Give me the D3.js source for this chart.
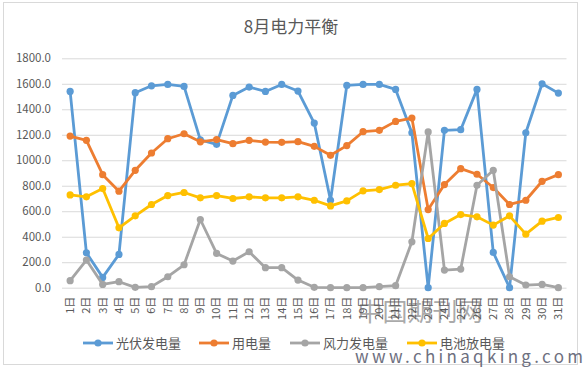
<!DOCTYPE html>
<html>
<head>
<meta charset="utf-8">
<script src="https://cdn.jsdelivr.net/npm/d3@7"></script>
<style>
  body { margin: 0; background: #fff; }
  text { font-family: "Noto Sans CJK SC", "Noto Sans", sans-serif; }
</style>
</head>
<body>
<div id="chart"></div>
<script>
// days of August
var days = d3.range(1, 32).map(function(d) { return d + "日"; });

var seriesNames = ["光伏发电量", "用电量", "风力发电量", "电池放电量"];
var seriesColors = ["#5b9bd5", "#ed7d31", "#a5a5a5", "#ffc000"];

var solar = [1540, 274, 81, 261, 1530, 1584, 1595, 1579, 1160, 1125,
  1509, 1574, 1540, 1595, 1543, 1292, 686, 1587, 1595, 1595,
  1556, 1216, 0, 1235, 1240, 1556, 277, 0, 1216, 1600, 1527];
var usage = [1190, 1156, 887, 757, 921, 1057, 1169, 1208, 1145, 1162,
  1130, 1156, 1143, 1141, 1146, 1109, 1039, 1115, 1224, 1235,
  1305, 1331, 613, 809, 934, 890, 786, 653, 686, 835, 887];
var wind = [55, 217, 26, 47, 3, 8, 86, 180, 535, 269,
  209, 282, 157, 157, 60, 3, 0, 0, 0, 8,
  16, 360, 1222, 138, 146, 804, 921, 86, 21, 26, 0];
var battery = [728, 713, 778, 470, 564, 653, 723, 747, 705, 723,
  700, 713, 705, 705, 713, 686, 642, 681, 760, 770,
  804, 817, 386, 504, 574, 556, 491, 564, 420, 522, 551];

var yTicks = [0, 200, 400, 600, 800, 1000, 1200, 1400, 1600, 1800];

var W = 586, H = 369;
var margin = { top: 58.3, right: 19.5, bottom: 81.3, left: 62 };
var width = W - margin.left - margin.right;
var height = H - margin.top - margin.bottom;

var svg = d3.select("#chart").append("svg")
  .attr("width", W)
  .attr("height", H);

//outer frame
svg.append("rect")
  .attr("x", 3.5).attr("y", 2.5)
  .attr("width", 574).attr("height", 362)
  .attr("fill", "#fff")
  .attr("stroke", "#d9d9d9");

svg.append("text")
  .attr("x", 291).attr("y", 33)
  .attr("text-anchor", "middle")
  .attr("font-size", 17)
  .attr("fill", "#595959")
  .text("8月电力平衡");

var g = svg.append("g")
  .attr("transform", "translate(" + margin.left + "," + margin.top + ")");

var x = d3.scaleBand().domain(days).range([0, width]);
var y = d3.scaleLinear().domain([0, 1800]).range([height, 0]);

// gridlines + y labels
var yAxis = g.append("g")
  .call(d3.axisLeft(y).tickValues(yTicks).tickFormat(d3.format(".1f"))
    .tickSize(-width).tickPadding(11));
yAxis.select(".domain").remove();
yAxis.selectAll("line").attr("stroke", "#d9d9d9");
yAxis.selectAll("text").attr("fill", "#595959").attr("font-size", 11.5)
  .attr("font-family", "'Noto Sans CJK SC', sans-serif");

// x labels, rotated
var xAxis = g.append("g")
  .attr("transform", "translate(0," + height + ")")
  .call(d3.axisBottom(x).tickSize(0).tickPadding(0));
xAxis.select(".domain").remove();
xAxis.selectAll("text")
  .attr("transform", "rotate(-90)")
  .attr("text-anchor", "end")
  .attr("x", -9).attr("y", 0).attr("dy", "0.35em")
  .attr("fill", "#595959").attr("font-size", 11)
  .attr("font-family", "'Noto Sans CJK SC', sans-serif");

var allSeries = [solar, usage, wind, battery];

var valueline = d3.line()
  .x(function(d, i) { return x(days[i]) + x.bandwidth() / 2; })
  .y(function(d) { return y(d); });

allSeries.forEach(function(s, k) {
  g.append("path")
    .datum(s)
    .attr("fill", "none")
    .attr("stroke", seriesColors[k])
    .attr("stroke-width", 2.8)
    .attr("stroke-linejoin", "round")
    .attr("d", valueline);
  g.selectAll(".pt" + k)
    .data(s)
    .enter().append("circle")
    .attr("cx", function(d, i) { return x(days[i]) + x.bandwidth() / 2; })
    .attr("cy", function(d) { return y(d); })
    .attr("r", 3.6)
    .attr("fill", seriesColors[k]);
});

// legend
var legendX = [83, 199, 290, 407];
var legend = svg.append("g");
seriesNames.forEach(function(name, k) {
  var lx = legendX[k], ly = 343;
  legend.append("line")
    .attr("x1", lx).attr("x2", lx + 30)
    .attr("y1", ly).attr("y2", ly)
    .attr("stroke", seriesColors[k]).attr("stroke-width", 2.8);
  legend.append("circle")
    .attr("cx", lx + 15).attr("cy", ly).attr("r", 3.6)
    .attr("fill", seriesColors[k]);
  legend.append("text")
    .attr("x", lx + 33).attr("y", ly).attr("dy", "0.35em")
    .attr("font-size", 13).attr("fill", "#595959")
    .text(name);
});

// watermarks
svg.append("text")
  .attr("x", 420).attr("y", 321)
  .attr("text-anchor", "middle")
  .attr("font-size", 25)
  .attr("fill", "#555")
  .attr("fill-opacity", 0.5)
  .text("中国期刊网");
svg.append("text")
  .attr("x", 355).attr("y", 363)
  .attr("font-size", 17)
  .attr("font-family", "'DejaVu Sans Mono', monospace")
  .attr("fill", "#6e7080")
  .attr("textLength", 228)
  .text("www.chinaqking.com");
</script>
</body>
</html>
